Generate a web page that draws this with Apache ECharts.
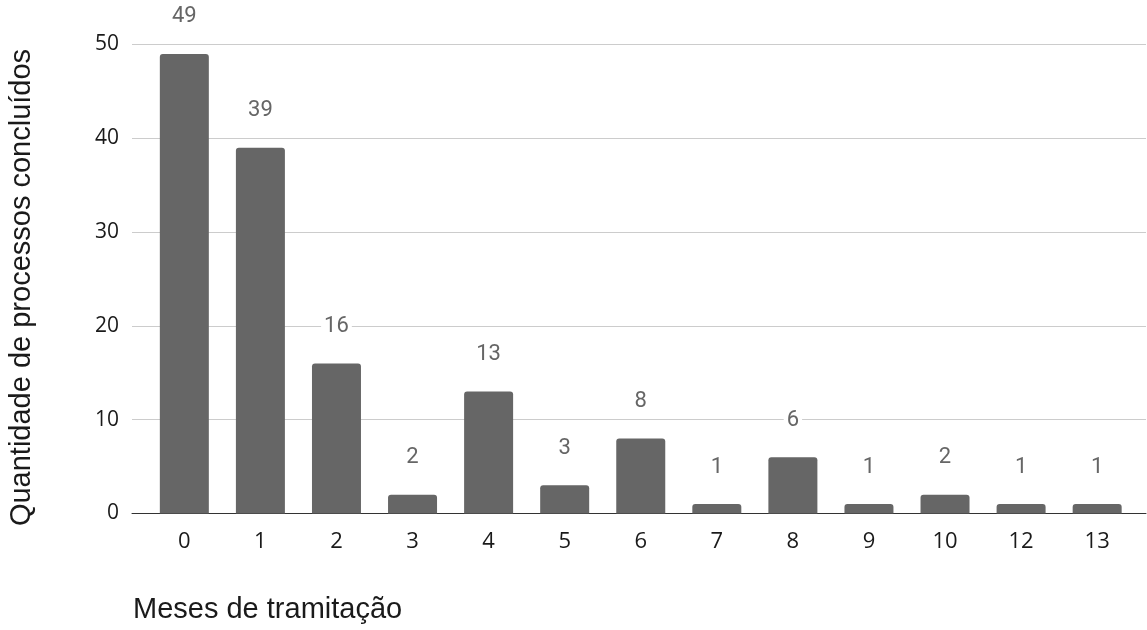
<!DOCTYPE html>
<html>
<head>
<meta charset="utf-8">
<script src="https://cdn.jsdelivr.net/npm/echarts@6/dist/echarts.min.js"></script>
<style>
  html, body { margin: 0; padding: 0; background: #fff; }
  #chart { width: 1147px; height: 630px; }
</style>
</head>
<body>
<div id="chart"></div>
<script>
// Months in process (category labels) and number of completed processes
const months = ['0', '1', '2', '3', '4', '5', '6', '7', '8', '9', '10', '12', '13'];
const completed = [49, 39, 16, 2, 13, 3, 8, 1, 6, 1, 2, 1, 1];
const yTicks = { min: 0, max: 50, interval: 10 };

const xTitle = 'Meses de tramitação';
const yTitle = 'Quantidade de processos concluídos';

const chart = echarts.init(document.getElementById('chart'), null, { renderer: 'canvas' });

const plotTop = 44.5, plotBottom = 116.5;

chart.setOption({
  backgroundColor: '#ffffff',
  animation: false,
  grid: [
    // full-width grid: value gridlines, y labels and the baseline
    { left: 132, right: 1, top: plotTop, bottom: plotBottom },
    // inner grid holding the category bands and bars
    { left: 146.3, right: 11.8, top: plotTop, bottom: plotBottom }
  ],
  xAxis: [
    {
      gridIndex: 0, type: 'value', min: 0, max: 1,
      axisLine: { show: true, onZero: false, lineStyle: { color: '#333333', width: 1 } },
      axisTick: { show: false }, axisLabel: { show: false }, splitLine: { show: false }
    },
    {
      gridIndex: 1, type: 'category', data: months,
      axisLine: { show: false }, axisTick: { show: false },
      axisLabel: {
        margin: 17, fontFamily: 'Open Sans', fontSize: 22, lineHeight: 22, color: '#1a1a1a'
      },
      splitLine: { show: false }
    }
  ],
  yAxis: [
    {
      gridIndex: 0, type: 'value', min: yTicks.min, max: yTicks.max, interval: yTicks.interval,
      axisLine: { show: false }, axisTick: { show: false },
      axisLabel: { margin: 13, fontFamily: 'Open Sans', fontSize: 21, color: '#1a1a1a' },
      splitLine: { lineStyle: { color: '#cccccc', width: 1 } }
    },
    {
      gridIndex: 1, type: 'value', min: yTicks.min, max: yTicks.max, interval: yTicks.interval,
      show: false
    }
  ],
  series: [
    {
      type: 'bar',
      xAxisIndex: 1, yAxisIndex: 1,
      data: completed,
      barWidth: 49,
      itemStyle: { color: '#666666', borderRadius: [3, 3, 0, 0] },
      label: {
        show: true, position: 'top', distance: 26,
        fontFamily: 'Roboto', fontSize: 22, lineHeight: 22, color: '#666666',
        backgroundColor: '#ffffff', padding: [0, 3]
      },
      z: 3
    }
  ],
  graphic: [
    {
      type: 'text', left: 133, top: 595,
      style: { text: xTitle, font: '29px "Liberation Sans", Arial, sans-serif', fill: '#1a1a1a' }
    },
    {
      type: 'text', x: 22, y: 287.5, rotation: Math.PI / 2,
      style: {
        text: yTitle, font: '29px "Liberation Sans", Arial, sans-serif', fill: '#1a1a1a',
        align: 'center', verticalAlign: 'middle'
      }
    }
  ]
});
</script>
</body>
</html>
